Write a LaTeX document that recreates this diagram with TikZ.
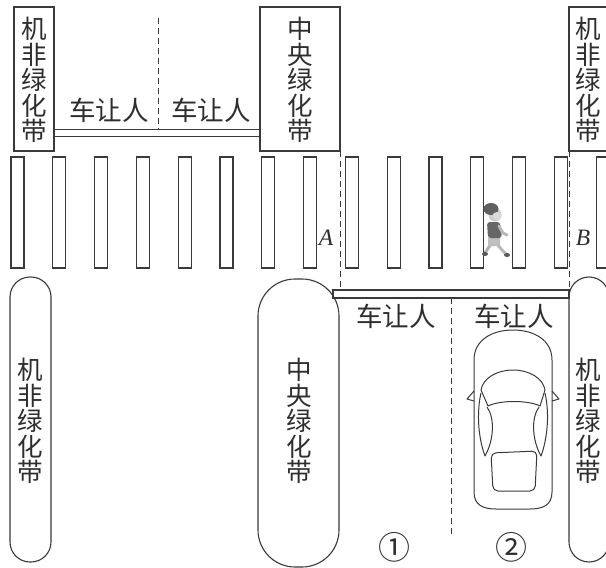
\documentclass[tikz,border=0pt]{standalone}
\usepackage{fontspec}
\newfontfamily\cjk{Noto Sans CJK SC}
\newfontfamily\latinserif{Liberation Serif}
\definecolor{linegray}{HTML}{3A3A3A}
\definecolor{textgray}{HTML}{2E2E2E}
\begin{document}
\begin{tikzpicture}[x=1pt,y=-1pt,
  ink/.style={draw=linegray, line width=1.1pt},
  dashline/.style={draw=linegray, line width=1pt, dash pattern=on 6pt off 4pt},
  vtext/.style={font=\cjk\fontsize{25.5}{25.5}\selectfont, align=center, inner sep=0pt, text=textgray},
  htext/.style={font=\cjk\fontsize{26.5}{26.5}\selectfont, inner sep=0pt, text=textgray},
  ptlabel/.style={font=\latinserif\itshape\fontsize{23.5}{23.5}\selectfont, inner sep=0pt, text=textgray},
  lanenum/.style={font=\cjk\fontsize{32}{32}\selectfont, inner sep=0pt, text=textgray},
  carline/.style={draw=linegray, line width=1pt, line join=round}
]
\useasboundingbox (0,0) rectangle (606,568);
\fill[white] (0,0) rectangle (606,568);
\clip (0,0) rectangle (606,568);

% upper kerb boxes and stop line
\draw[ink] (14,7) rectangle (54,151);
\draw[ink] (260,7) rectangle (340,151);
\draw[ink] (569,7) rectangle (615,151);
\draw[ink] (54,129.5) rectangle (260,136.5);
\draw[dashline] (158,18) -- (158,129.5);

% zebra crossing
\foreach \i in {0,...,14}{
  \pgfmathsetmacro\xl{11+41.8*\i}
  \draw[ink] (\xl,157) rectangle ++(13,111);
}

% lane edges through the crossing
\draw[dashline] (340,151) -- (340,290);
\draw[dashline] (569,151) -- (569,290);

% lower kerb islands
\draw[ink, rounded corners=20pt] (10,277) rectangle (51,562);
\draw[ink, rounded corners=37pt] (258,279) rectangle (339,567);
\draw[ink, rounded corners=20pt] (569,277) rectangle (609,562);

% lower stop line and lane divider
\draw[ink] (333,290) rectangle (569,298);
\draw[dashline] (451,298) -- (451,534);

% texts
\node[vtext] (belt-tl) at (34,80) {机\\非\\绿\\化\\带};
\node[vtext] (belt-tc) at (300,80) {中\\央\\绿\\化\\带};
\node[vtext] (belt-tr) at (588,80) {机\\非\\绿\\化\\带};
\node[vtext] (belt-bl) at (30,421) {机\\非\\绿\\化\\带};
\node[vtext] (belt-bc) at (299,421) {中\\央\\绿\\化\\带};
\node[vtext] (belt-br) at (588,421) {机\\非\\绿\\化\\带};

\node[htext] (yield-t1) at (109,110) {车让人};
\node[htext] (yield-t2) at (211,110) {车让人};
\node[htext] (yield-b1) at (396,316) {车让人};
\node[htext] (yield-b2) at (514,316) {车让人};

\node[ptlabel] (pA) at (326,238) {A};
\node[ptlabel] (pB) at (583,238) {B};

\node[lanenum] (lane1) at (394,547) {①};
\node[lanenum] (lane2) at (511,547) {②};

% car seen from above
\draw[carline, fill=white] (474,360) .. controls (474,340) and (492,330) .. (513,330)
  .. controls (534,330) and (552,340) .. (552,360) -- (552,492)
  .. controls (552,505) and (543,509) .. (530,509) -- (496,509)
  .. controls (483,509) and (474,505) .. (474,492) -- cycle;
\draw[carline] (488,406) -- (481,390) .. controls (483,378) and (497,370) .. (513,370)
  .. controls (529,370) and (543,378) .. (545,390) -- (540,406)
  .. controls (528,400) and (500,400) .. (488,406) -- cycle;
\draw[carline] (481,393) .. controls (476,415) and (479,440) .. (485,456)
  .. controls (494,440) and (495,418) .. (487,407);
\draw[carline] (545,393) .. controls (550,415) and (547,440) .. (541,456)
  .. controls (532,440) and (531,418) .. (539,407);
\draw[carline] (474,391) -- (467,399) -- (474,401);
\draw[carline] (552,391) -- (559,399) -- (552,401);
\draw[carline, rounded corners=5pt] (491,453) -- (537,451) -- (535,491) -- (493,491) -- cycle;

% pedestrian
\draw[gray!60, line width=3pt, line cap=round] (491,244) -- (487,250) -- (485,253);
\draw[gray!55, line width=3pt, line cap=round] (497,244) -- (502,250) -- (506,254);
\fill[gray!70!black] (485,254) ellipse (3pt and 2pt);
\fill[gray!70!black] (507,255) ellipse (3pt and 2pt);
\fill[gray!50, rounded corners=2pt] (488,236) rectangle (500,246);
\fill[gray!80!black, rounded corners=3pt] (487,222) -- (500,222) -- (502,238) -- (488,238) -- cycle;
\draw[gray!55, line width=3pt, line cap=round] (499,226) -- (503,233) -- (507,235);
\fill[gray!40] (495,215) circle (6.5pt);
\fill[gray!75!black] (491,209) ellipse (7.5pt and 6pt);
\fill[gray!30] (497,216) ellipse (4.5pt and 4pt);
\end{tikzpicture}
\end{document}
